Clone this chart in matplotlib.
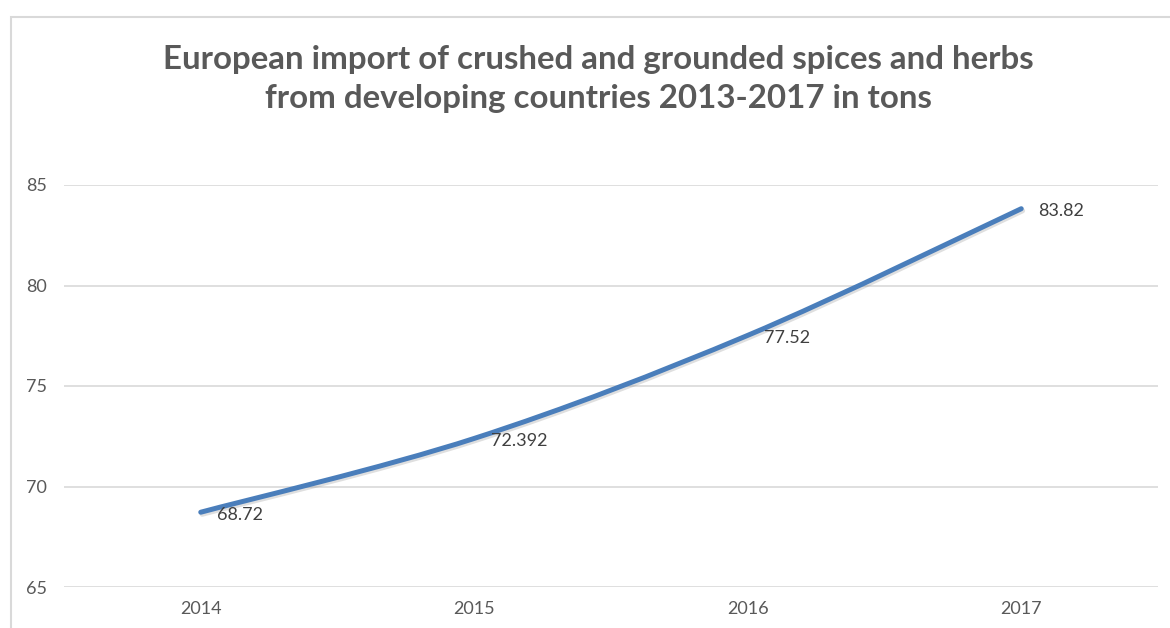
import matplotlib
matplotlib.use('Agg')
import matplotlib.pyplot as plt
from matplotlib.path import Path
from matplotlib.patches import PathPatch, Rectangle
import matplotlib.patheffects as pe
import numpy as np

plt.rcParams['font.family'] = ['Lato', 'DejaVu Sans']

# data
years = ['2014', '2015', '2016', '2017']
values = [68.72, 72.392, 77.52, 83.82]
value_labels = ['68.72', '72.392', '77.52', '83.82']
y_ticks = [65, 70, 75, 80, 85]

TITLE = 'European import of crushed and grounded spices and herbs\nfrom developing countries 2013-2017 in tons'
GRAY = '#595959'
GRID = '#d9d9d9'
LINE = '#4a7ebb'

fig = plt.figure(figsize=(11.7, 6.28), dpi=100)
ax = fig.add_axes([64 / 1170, 41 / 628, (1158 - 64) / 1170, (587 - 185) / 628])

x = np.arange(len(years))
y = np.array(values)

# smoothed line (Catmull-Rom bezier, like Excel's smoothed line)
px = np.concatenate([[x[0]], x, [x[-1]]])
py = np.concatenate([[y[0]], y, [y[-1]]])
verts = [(x[0], y[0])]
codes = [Path.MOVETO]
for i in range(1, len(px) - 2):
    c1 = (px[i] + (px[i + 1] - px[i - 1]) / 6, py[i] + (py[i + 1] - py[i - 1]) / 6)
    c2 = (px[i + 1] - (px[i + 2] - px[i]) / 6, py[i + 1] - (py[i + 2] - py[i]) / 6)
    verts += [c1, c2, (px[i + 1], py[i + 1])]
    codes += [Path.CURVE4] * 3
patch = PathPatch(Path(verts, codes), facecolor='none', edgecolor=LINE, lw=3.6,
                  capstyle='round', zorder=3)
patch.set_path_effects([pe.SimpleLineShadow(offset=(1, -1.5), shadow_color='gray', alpha=0.25),
                        pe.Normal()])
ax.add_patch(patch)

for xi, yi, lab in zip(x, y, value_labels):
    ax.annotate(lab, (xi, yi), xytext=(12, -2), textcoords='offset points',
                ha='left', va='center', fontsize=13, color='#404040')

ax.set_xlim(-0.5, len(years) - 0.5)
ax.set_ylim(65, 85)
ax.set_xticks(x)
ax.set_xticklabels(years)
ax.set_yticks(y_ticks)
ax.tick_params(axis='both', length=0, labelsize=13, labelcolor=GRAY)
ax.tick_params(axis='x', pad=10)
ax.tick_params(axis='y', pad=12)
ax.grid(axis='y', color=GRID, lw=1.2)
ax.set_axisbelow(True)
for s in ax.spines.values():
    s.set_visible(False)

fig.text(598 / 1170, 1 - 79 / 628, TITLE, ha='center', va='center', fontsize=23.8,
         fontweight='bold', color=GRAY, linespacing=1.38)

fig.patches.append(Rectangle((11 / 1170, -0.2), 1.2, 1 - 17 / 628 + 0.2,
                             transform=fig.transFigure, fill=False, edgecolor=GRID, lw=1.5))

fig.savefig('out.png', dpi=100)
